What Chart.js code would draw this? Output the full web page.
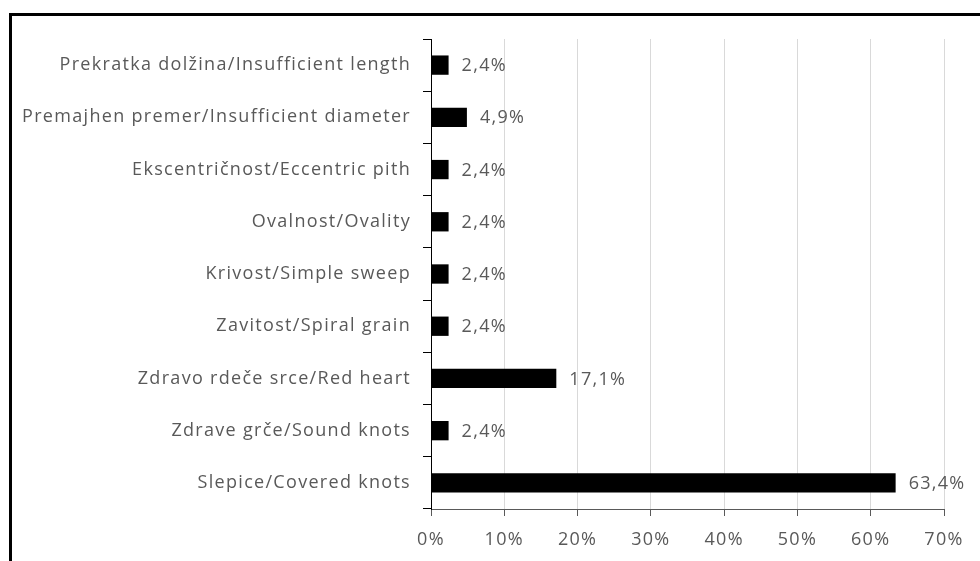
<!DOCTYPE html>
<html>
<head>
<meta charset="utf-8">
<script src="https://cdn.jsdelivr.net/npm/chart.js@4"></script>
<style>
  html, body { margin: 0; padding: 0; background: #fff; overflow: hidden; }
  #wrap { position: relative; width: 980px; height: 561px; }
  #frame {
    position: absolute; left: 9px; top: 13px; width: 1000px; height: 600px;
    border-left: 3px solid #000; border-top: 3px solid #000; box-sizing: border-box;
  }
  canvas { position: absolute; left: 0; top: 0; }
</style>
</head>
<body>
<div id="wrap">
  <div id="frame"></div>
  <canvas id="chart" width="980" height="561"></canvas>
</div>
<script>
const categories = [
  'Prekratka dolžina/Insufficient length',
  'Premajhen premer/Insufficient diameter',
  'Ekscentričnost/Eccentric pith',
  'Ovalnost/Ovality',
  'Krivost/Simple sweep',
  'Zavitost/Spiral grain',
  'Zdravo rdeče srce/Red heart',
  'Zdrave grče/Sound knots',
  'Slepice/Covered knots'
];
const shares = [2.4, 4.9, 2.4, 2.4, 2.4, 2.4, 17.1, 2.4, 63.4];

const FONT = { family: '"Open Sans", sans-serif', size: 18 };
const GREY = '#595959';

// the original text is a bit wider than Open Sans, spread it a little
const spacing = {
  id: 'spacing',
  beforeDraw(chart) { chart.ctx.letterSpacing = '1.3px'; }
};

// value labels right of each bar, e.g. "2,4%"
const valueLabels = {
  id: 'valueLabels',
  afterDatasetsDraw(chart) {
    const ctx = chart.ctx;
    const meta = chart.getDatasetMeta(0);
    ctx.save();
    ctx.font = `${FONT.size}px ${FONT.family}`;
    ctx.fillStyle = GREY;
    ctx.textAlign = 'left';
    ctx.textBaseline = 'middle';
    meta.data.forEach((bar, i) => {
      const txt = shares[i].toFixed(1).replace('.', ',') + '%';
      ctx.fillText(txt, bar.x + 13, bar.y + 1);
    });
    ctx.restore();
  }
};

new Chart(document.getElementById('chart'), {
  type: 'bar',
  data: {
    labels: categories,
    datasets: [{
      data: shares,
      backgroundColor: '#000',
      barPercentage: 0.37,
      categoryPercentage: 1
    }]
  },
  options: {
    indexAxis: 'y',
    responsive: false,
    animation: false,
    layout: { padding: { top: 39, right: 36, left: 0, bottom: 0 } },
    scales: {
      x: {
        min: 0,
        max: 70,
        ticks: {
          stepSize: 10,
          color: GREY,
          font: FONT,
          padding: 13,
          callback: v => v + '%'
        },
        grid: { color: '#d9d9d9', tickColor: GREY, tickLength: 7 },
        border: { color: GREY, width: 1 },
        afterFit: s => { s.height = 52; }
      },
      y: {
        ticks: { color: GREY, font: FONT, padding: 12, autoSkip: false },
        grid: { drawOnChartArea: false, tickColor: '#000', tickLength: 8, offset: true },
        border: { color: '#000', width: 1 },
        afterFit: s => { s.width = 431; }
      }
    },
    plugins: {
      legend: { display: false },
      tooltip: { enabled: false }
    }
  },
  plugins: [spacing, valueLabels]
});
</script>
</body>
</html>
